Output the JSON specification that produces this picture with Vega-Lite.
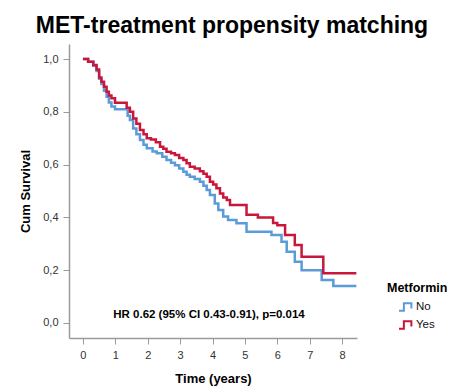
{
  "$schema": "https://vega.github.io/schema/vega-lite/v6.json",
  "autosize": "none",
  "width": 288,
  "height": 294,
  "padding": {"left": 69, "top": 44, "right": 101, "bottom": 52},
  "background": "white",
  "title": {
    "text": "MET-treatment propensity matching",
    "font": "Liberation Sans",
    "fontSize": 23,
    "fontWeight": "bold",
    "color": "#000000",
    "anchor": "middle",
    "frame": "group",
    "dx": 19,
    "dy": 23,
    "offset": 11,
    "baseline": "alphabetic"
  },
  "config": {
    "view": {"stroke": null},
    "font": "Liberation Sans",
    "axis": {
      "grid": false,
      "domainColor": "#9a9a9a",
      "domainWidth": 1.5,
      "tickColor": "#9a9a9a",
      "tickWidth": 1,
      "tickSize": 6,
      "labelFont": "Liberation Sans",
      "labelFontSize": 11,
      "labelColor": "#333333",
      "labelOverlap": false,
      "titleFont": "Liberation Sans",
      "titleFontSize": 13,
      "titleFontWeight": "bold",
      "titleColor": "#000000"
    }
  },
  "datasets": {
    "km": [
      {"group": "No", "t": 0, "s": 1.0},
      {"group": "No", "t": 0.16, "s": 0.99},
      {"group": "No", "t": 0.32, "s": 0.975},
      {"group": "No", "t": 0.42, "s": 0.955},
      {"group": "No", "t": 0.5, "s": 0.925},
      {"group": "No", "t": 0.57, "s": 0.905},
      {"group": "No", "t": 0.65, "s": 0.88},
      {"group": "No", "t": 0.73, "s": 0.857},
      {"group": "No", "t": 0.8, "s": 0.835},
      {"group": "No", "t": 0.88, "s": 0.82},
      {"group": "No", "t": 0.99, "s": 0.81},
      {"group": "No", "t": 1.38, "s": 0.785},
      {"group": "No", "t": 1.45, "s": 0.769},
      {"group": "No", "t": 1.55, "s": 0.737},
      {"group": "No", "t": 1.65, "s": 0.715},
      {"group": "No", "t": 1.76, "s": 0.693},
      {"group": "No", "t": 1.87, "s": 0.675},
      {"group": "No", "t": 1.97, "s": 0.662},
      {"group": "No", "t": 2.15, "s": 0.65},
      {"group": "No", "t": 2.28, "s": 0.643},
      {"group": "No", "t": 2.45, "s": 0.63},
      {"group": "No", "t": 2.58, "s": 0.617},
      {"group": "No", "t": 2.72, "s": 0.607},
      {"group": "No", "t": 2.84, "s": 0.598},
      {"group": "No", "t": 2.97, "s": 0.585},
      {"group": "No", "t": 3.1, "s": 0.573},
      {"group": "No", "t": 3.2, "s": 0.562},
      {"group": "No", "t": 3.3, "s": 0.554},
      {"group": "No", "t": 3.45, "s": 0.545},
      {"group": "No", "t": 3.61, "s": 0.535},
      {"group": "No", "t": 3.72, "s": 0.52},
      {"group": "No", "t": 3.82, "s": 0.504},
      {"group": "No", "t": 3.92, "s": 0.485},
      {"group": "No", "t": 4.07, "s": 0.453},
      {"group": "No", "t": 4.18, "s": 0.428},
      {"group": "No", "t": 4.33, "s": 0.403},
      {"group": "No", "t": 4.48, "s": 0.39},
      {"group": "No", "t": 4.74, "s": 0.378},
      {"group": "No", "t": 5.05, "s": 0.346},
      {"group": "No", "t": 5.82, "s": 0.333},
      {"group": "No", "t": 6.13, "s": 0.308},
      {"group": "No", "t": 6.29, "s": 0.27},
      {"group": "No", "t": 6.54, "s": 0.232},
      {"group": "No", "t": 6.75, "s": 0.2},
      {"group": "No", "t": 7.37, "s": 0.163},
      {"group": "No", "t": 7.73, "s": 0.14},
      {"group": "No", "t": 8.44, "s": 0.14},
      {"group": "Yes", "t": 0, "s": 1.0},
      {"group": "Yes", "t": 0.16, "s": 0.99},
      {"group": "Yes", "t": 0.32, "s": 0.977},
      {"group": "Yes", "t": 0.42, "s": 0.96},
      {"group": "Yes", "t": 0.5, "s": 0.93},
      {"group": "Yes", "t": 0.57, "s": 0.914},
      {"group": "Yes", "t": 0.65, "s": 0.895},
      {"group": "Yes", "t": 0.73, "s": 0.876},
      {"group": "Yes", "t": 0.8, "s": 0.862},
      {"group": "Yes", "t": 0.88, "s": 0.851},
      {"group": "Yes", "t": 0.99, "s": 0.834},
      {"group": "Yes", "t": 1.35, "s": 0.815},
      {"group": "Yes", "t": 1.45, "s": 0.8},
      {"group": "Yes", "t": 1.55, "s": 0.775},
      {"group": "Yes", "t": 1.65, "s": 0.755},
      {"group": "Yes", "t": 1.76, "s": 0.731},
      {"group": "Yes", "t": 1.87, "s": 0.715},
      {"group": "Yes", "t": 1.97, "s": 0.7},
      {"group": "Yes", "t": 2.1, "s": 0.695},
      {"group": "Yes", "t": 2.25, "s": 0.685},
      {"group": "Yes", "t": 2.38, "s": 0.668},
      {"group": "Yes", "t": 2.48, "s": 0.66},
      {"group": "Yes", "t": 2.58, "s": 0.649},
      {"group": "Yes", "t": 2.72, "s": 0.643},
      {"group": "Yes", "t": 2.84, "s": 0.636},
      {"group": "Yes", "t": 2.97, "s": 0.625},
      {"group": "Yes", "t": 3.1, "s": 0.617},
      {"group": "Yes", "t": 3.2, "s": 0.605},
      {"group": "Yes", "t": 3.3, "s": 0.592},
      {"group": "Yes", "t": 3.45, "s": 0.585},
      {"group": "Yes", "t": 3.61, "s": 0.575},
      {"group": "Yes", "t": 3.72, "s": 0.565},
      {"group": "Yes", "t": 3.82, "s": 0.554},
      {"group": "Yes", "t": 3.92, "s": 0.535},
      {"group": "Yes", "t": 4.02, "s": 0.525},
      {"group": "Yes", "t": 4.12, "s": 0.51},
      {"group": "Yes", "t": 4.23, "s": 0.491},
      {"group": "Yes", "t": 4.33, "s": 0.475},
      {"group": "Yes", "t": 4.44, "s": 0.466},
      {"group": "Yes", "t": 4.54, "s": 0.447},
      {"group": "Yes", "t": 5.05, "s": 0.41},
      {"group": "Yes", "t": 5.4, "s": 0.4},
      {"group": "Yes", "t": 5.87, "s": 0.379},
      {"group": "Yes", "t": 6.0, "s": 0.37},
      {"group": "Yes", "t": 6.24, "s": 0.333},
      {"group": "Yes", "t": 6.54, "s": 0.295},
      {"group": "Yes", "t": 6.75, "s": 0.251},
      {"group": "Yes", "t": 7.42, "s": 0.188},
      {"group": "Yes", "t": 8.44, "s": 0.188}
    ],
    "note": [
      {"t": 3.89, "s": 0.03, "label": "HR 0.62 (95% CI 0.43-0.91), p=0.014"}
    ]
  },
  "layer": [
    {
      "data": {"name": "km"},
      "mark": {"type": "line", "interpolate": "step-after", "strokeWidth": 2.5},
      "encoding": {
        "x": {
          "field": "t",
          "type": "quantitative",
          "scale": {"domain": [-0.43, 8.46], "nice": false, "zero": false},
          "axis": {
            "title": "Time (years)",
            "values": [0, 1, 2, 3, 4, 5, 6, 7, 8],
            "tickCount": 12,
            "format": "d",
            "labelOverlap": false,
            "labelFlush": false,
            "labelPadding": 5,
            "titlePadding": 12
          }
        },
        "y": {
          "field": "s",
          "type": "quantitative",
          "scale": {"domain": [-0.057, 1.057], "nice": false, "zero": false},
          "axis": {
            "title": "Cum Survival",
            "values": [0, 0.2, 0.4, 0.6, 0.8, 1.0],
            "tickCount": 8,
            "labelExpr": "replace(format(datum.value, '.1f'), '.', ',')",
            "labelOverlap": false,
            "labelPadding": 5,
            "titlePadding": 10
          }
        },
        "color": {
          "field": "group",
          "type": "nominal",
          "scale": {"domain": ["No", "Yes"], "range": ["#5a9bd8", "#c8173a"]},
          "legend": {
            "title": "Metformin",
            "orient": "none",
            "legendX": 318,
            "legendY": 238,
            "padding": 0,
            "titleFont": "Liberation Sans",
            "titleFontSize": 12.5,
            "titleFontWeight": "bold",
            "titleColor": "#000000",
            "titlePadding": 4,
            "labelFont": "Liberation Sans",
            "labelFontSize": 11.5,
            "labelColor": "#111111",
            "labelOffset": 1,
            "rowPadding": 1,
            "symbolType": "M-1,0.5H-0.35V-0.5H0.65V0.2",
            "symbolSize": 225,
            "symbolStrokeWidth": 2,
            "symbolFillColor": "transparent",
            "symbolOffset": 11
          }
        }
      }
    },
    {
      "data": {"name": "note"},
      "mark": {"type": "text", "font": "Liberation Sans", "fontSize": 11.5, "fontWeight": "bold", "color": "#000000", "align": "center", "baseline": "middle"},
      "encoding": {
        "x": {"field": "t", "type": "quantitative"},
        "y": {"field": "s", "type": "quantitative"},
        "text": {"field": "label", "type": "nominal"}
      }
    }
  ]
}
